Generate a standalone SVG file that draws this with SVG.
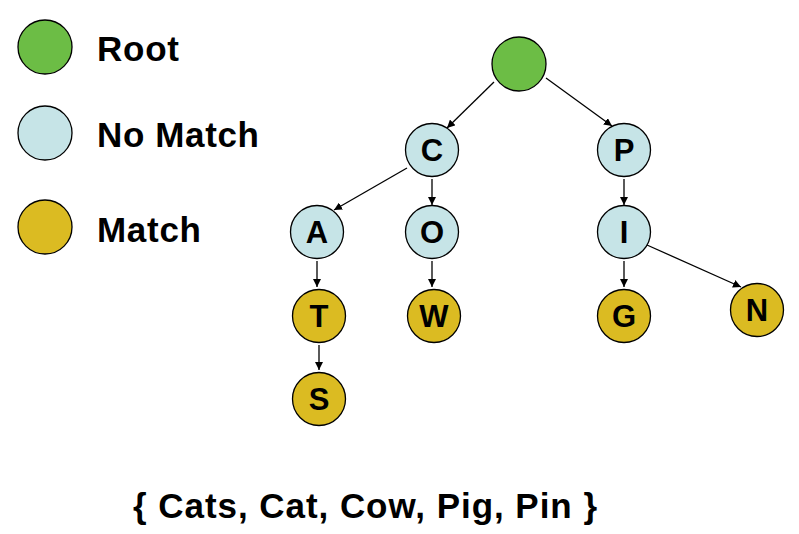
<svg xmlns="http://www.w3.org/2000/svg" width="799" height="534" viewBox="0 0 799 534">
<style>
.n{stroke:#000;stroke-width:1.3}
.root{fill:#6cbd45}
.nm{fill:#c6e4e7}
.m{fill:#dbbb22}
.t{font-family:"Liberation Sans",Arial,sans-serif;font-weight:bold;fill:#000}
.lbl{font-size:31px;text-anchor:middle}
.leg{font-size:35px}
.e{stroke:#000;stroke-width:1.3;fill:none;marker-end:url(#ah)}
</style>
<defs>
<marker id="ah" viewBox="0 0 10 10" refX="10" refY="5" markerWidth="8" markerHeight="8" markerUnits="userSpaceOnUse" orient="auto">
<path d="M0,0 L10,5 L0,10 z" fill="#000"/>
</marker>
</defs>
<rect width="799" height="534" fill="#fff"/>
<g id="legend">
<g id="legend-root"><circle class="n root" cx="45" cy="47" r="27"/><text class="t leg" x="97" y="61" textLength="82" lengthAdjust="spacing">Root</text></g>
<g id="legend-nomatch"><circle class="n nm" cx="45" cy="133" r="27"/><text class="t leg" x="97" y="147" textLength="162" lengthAdjust="spacing">No Match</text></g>
<g id="legend-match"><circle class="n m" cx="45" cy="227" r="27"/><text class="t leg" x="97" y="242" textLength="104" lengthAdjust="spacing">Match</text></g>
</g>
<g id="connectors">
<line class="e" x1="494" y1="82" x2="447" y2="128"/>
<line class="e" x1="546" y1="78" x2="612" y2="126"/>
<line class="e" x1="407" y1="168" x2="334" y2="210"/>
<line class="e" x1="432" y1="179" x2="432" y2="205"/>
<line class="e" x1="624" y1="179" x2="624" y2="205"/>
<line class="e" x1="317" y1="261" x2="317" y2="287"/>
<line class="e" x1="432" y1="261" x2="432" y2="287"/>
<line class="e" x1="624" y1="261" x2="624" y2="287"/>
<line class="e" x1="647" y1="245" x2="741" y2="287"/>
<line class="e" x1="319" y1="345" x2="319" y2="370"/>
</g>
<g id="node-root"><circle class="n root" cx="519" cy="64" r="27"/></g>
<g id="node-C"><circle class="n nm" cx="432" cy="150" r="26.5"/><text class="t lbl" x="432" y="161">C</text></g>
<g id="node-P"><circle class="n nm" cx="624" cy="150" r="26.5"/><text class="t lbl" x="624" y="161">P</text></g>
<g id="node-A"><circle class="n nm" cx="317" cy="232" r="26.5"/><text class="t lbl" x="317" y="243">A</text></g>
<g id="node-O"><circle class="n nm" cx="432" cy="232" r="26.5"/><text class="t lbl" x="432" y="243">O</text></g>
<g id="node-I"><circle class="n nm" cx="624" cy="232" r="26.5"/><text class="t lbl" x="624" y="243">I</text></g>
<g id="node-T"><circle class="n m" cx="319" cy="316" r="26.5"/><text class="t lbl" x="319" y="327">T</text></g>
<g id="node-W"><circle class="n m" cx="434" cy="316" r="26.5"/><text class="t lbl" x="434" y="327">W</text></g>
<g id="node-G"><circle class="n m" cx="624" cy="316" r="26.5"/><text class="t lbl" x="624" y="327">G</text></g>
<g id="node-N"><circle class="n m" cx="757" cy="310" r="26.5"/><text class="t lbl" x="757" y="321">N</text></g>
<g id="node-S"><circle class="n m" cx="319" cy="399" r="26.5"/><text class="t lbl" x="319" y="410">S</text></g>
<text class="t" x="133" y="518" font-size="35" textLength="464" lengthAdjust="spacing">{ Cats, Cat, Cow, Pig, Pin }</text>
</svg>
